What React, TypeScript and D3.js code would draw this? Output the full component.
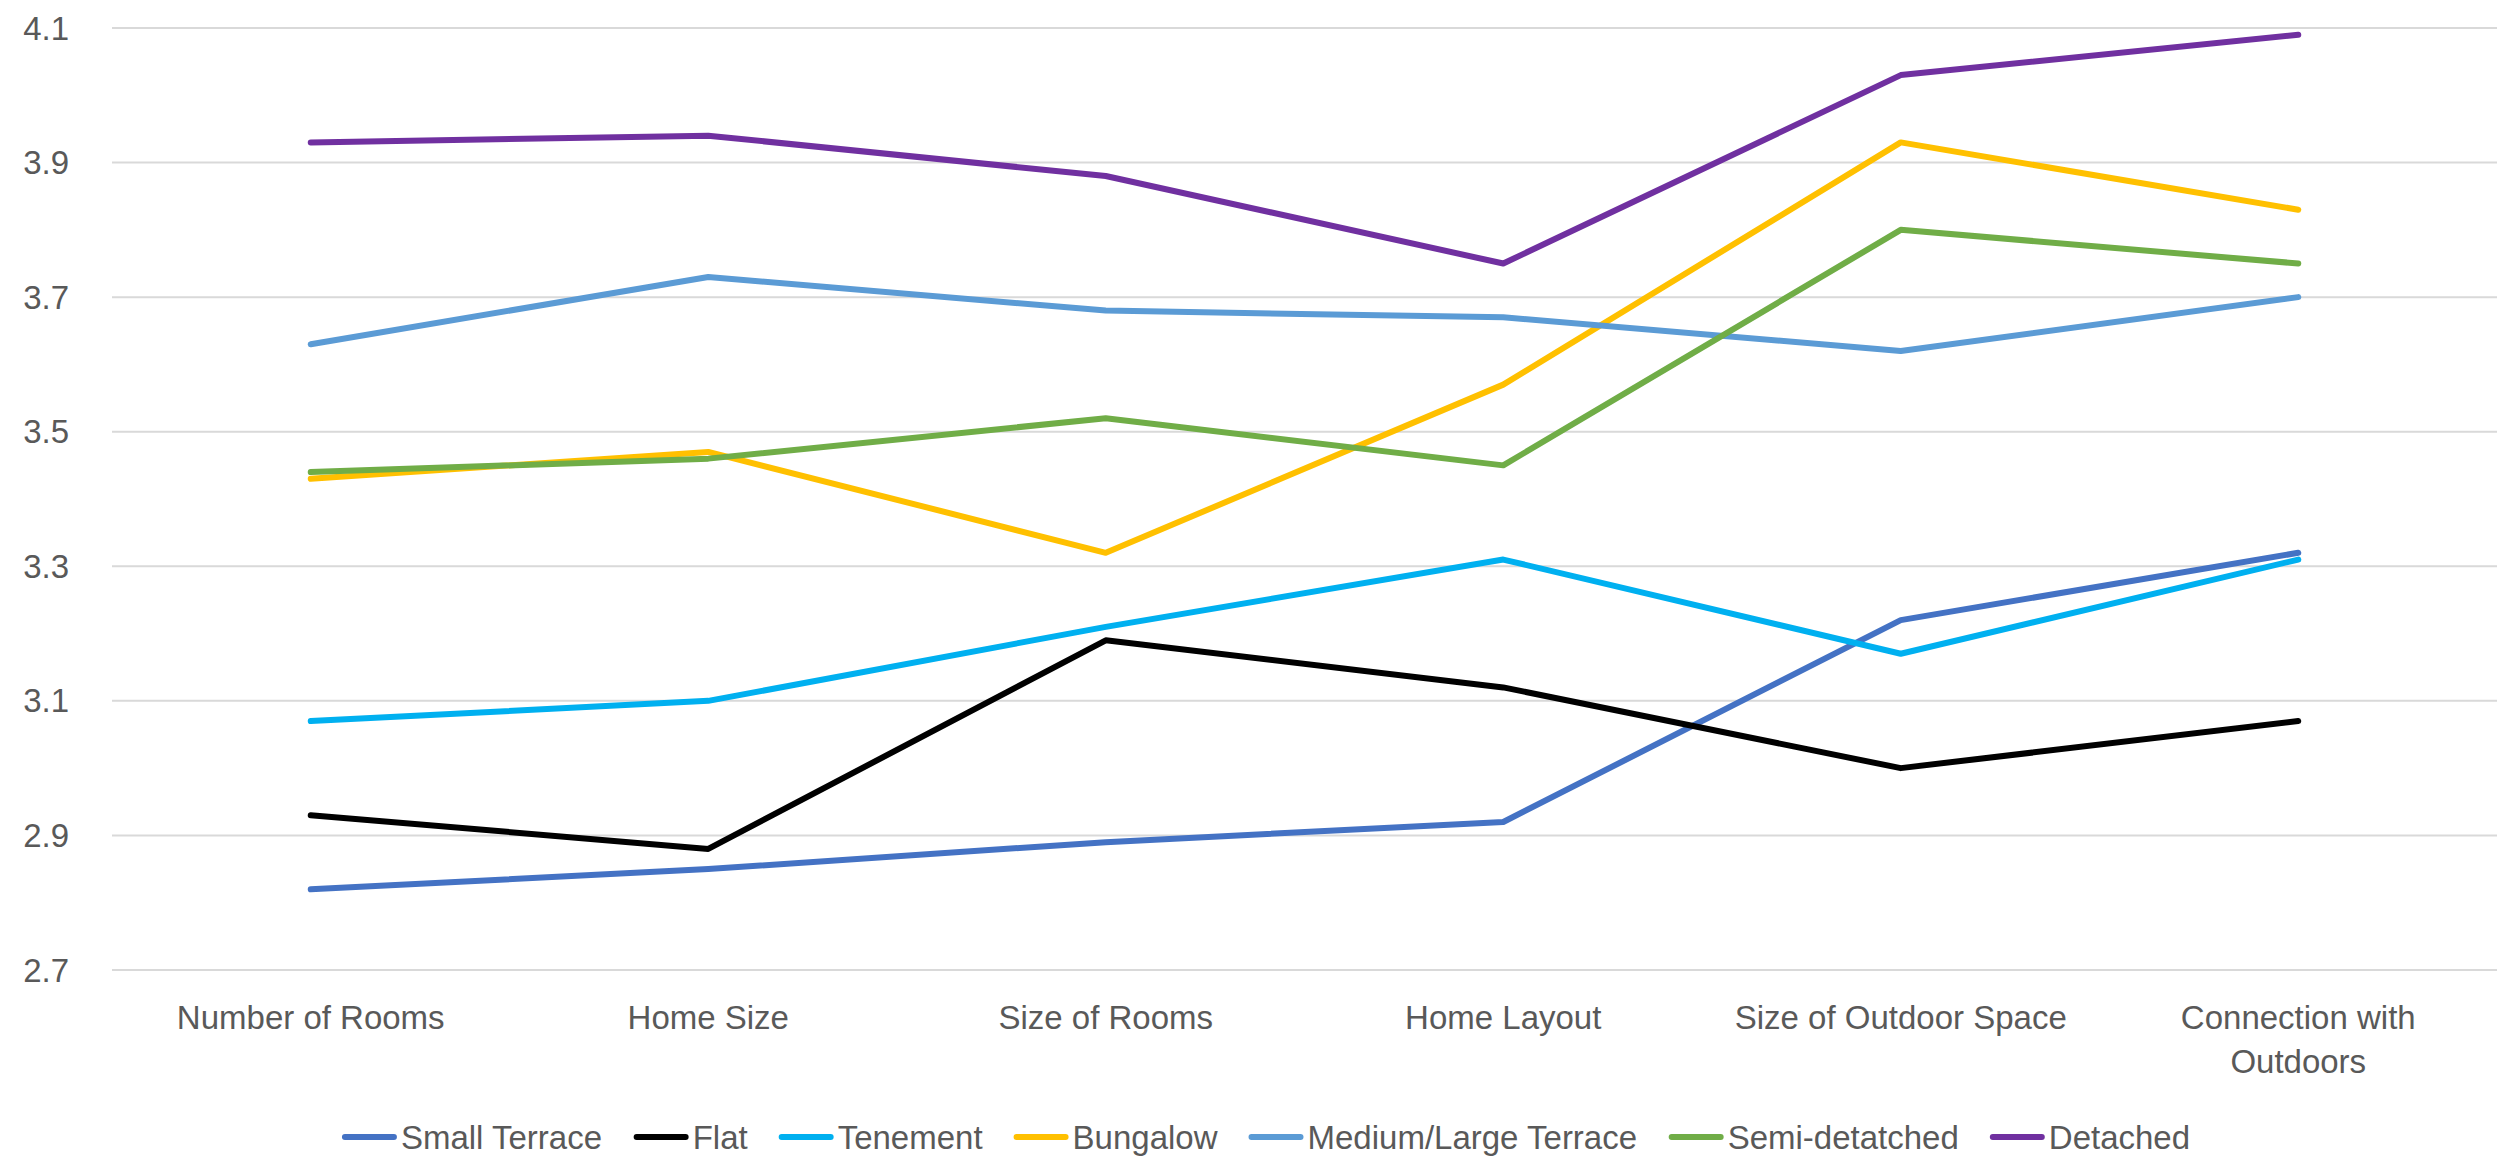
import React from "react";
import * as d3 from "d3";

const categories = [
  "Number of Rooms",
  "Home Size",
  "Size of Rooms",
  "Home Layout",
  "Size of Outdoor Space",
  "Connection with Outdoors",
];
const categoryLines = [
  ["Number of Rooms"],
  ["Home Size"],
  ["Size of Rooms"],
  ["Home Layout"],
  ["Size of Outdoor Space"],
  ["Connection with", "Outdoors"],
];

const seriesNames = [
  "Small Terrace",
  "Flat",
  "Tenement",
  "Bungalow",
  "Medium/Large Terrace",
  "Semi-detatched",
  "Detached",
];
const seriesColors = ["#4472C4", "#000000", "#00B0F0", "#FFC000", "#5B9BD5", "#70AD47", "#7030A0"];

const smallTerrace = [2.82, 2.85, 2.89, 2.92, 3.22, 3.32];
const flat = [2.93, 2.88, 3.19, 3.12, 3.0, 3.07];
const tenement = [3.07, 3.1, 3.21, 3.31, 3.17, 3.31];
const bungalow = [3.43, 3.47, 3.32, 3.57, 3.93, 3.83];
const mediumLargeTerrace = [3.63, 3.73, 3.68, 3.67, 3.62, 3.7];
const semiDetached = [3.44, 3.46, 3.52, 3.45, 3.8, 3.75];
const detached = [3.93, 3.94, 3.88, 3.75, 4.03, 4.09];

const seriesValues = [smallTerrace, flat, tenement, bungalow, mediumLargeTerrace, semiDetached, detached];

const yTicks = [2.7, 2.9, 3.1, 3.3, 3.5, 3.7, 3.9, 4.1];

const W = 2503;
const H = 1159;
const FONT = "'Liberation Sans', Arial, sans-serif";
const FS = 33;
const TEXT_COLOR = "#595959";

function measure(text: string, size: number) {
  if (typeof document === "undefined") return text.length * size * 0.5;
  const c = document.createElement("canvas");
  const ctx = c.getContext("2d")!;
  ctx.font = `${size}px ${FONT}`;
  return ctx.measureText(text).width;
}

export default function App() {
  const left = 112;
  const right = 2497;
  const top = 28;
  const bottom = 970;

  const x = d3.scaleBand<string>().domain(categories).range([left, right]).paddingInner(0).paddingOuter(0);
  const y = d3.scaleLinear().domain([2.7, 4.1]).range([bottom, top]);

  const line = d3
    .line<number>()
    .x((_, i) => (x(categories[i]) as number) + x.bandwidth() / 2)
    .y((d) => y(d));

  // legend layout
  const markerW = 55;
  const markerGap = 4;
  const itemGap = 31;
  const widths = seriesNames.map((n) => measure(n, FS));
  const total =
    widths.reduce((a, b) => a + b, 0) + seriesNames.length * (markerW + markerGap) + (seriesNames.length - 1) * itemGap;
  let cursor = 1266 - total / 2;
  const legendItems = seriesNames.map((n, i) => {
    const item = { name: n, x: cursor, color: seriesColors[i] };
    cursor += markerW + markerGap + widths[i] + itemGap;
    return item;
  });
  const legendY = 1137;

  return (
    <svg
      width={W}
      height={H}
      style={{ position: "absolute", left: 0, top: 0, background: "#fff" }}
      fontFamily={FONT}
    >
      <rect x={0} y={0} width={W} height={H} fill="#fff" />
      {yTicks.map((t) => (
        <g key={t}>
          <line x1={left} x2={right} y1={y(t)} y2={y(t)} stroke="#D9D9D9" strokeWidth={2} />
          <text x={69} y={y(t)} dy="0.35em" textAnchor="end" fontSize={FS} fill={TEXT_COLOR}>
            {t.toFixed(1)}
          </text>
        </g>
      ))}
      {categories.map((c, i) => (
        <text
          key={c}
          x={(x(c) as number) + x.bandwidth() / 2}
          y={1029}
          textAnchor="middle"
          fontSize={FS}
          fill={TEXT_COLOR}
        >
          {categoryLines[i].map((l, j) => (
            <tspan key={j} x={(x(c) as number) + x.bandwidth() / 2} dy={j === 0 ? 0 : 44}>
              {l}
            </tspan>
          ))}
        </text>
      ))}
      {seriesValues.map((vals, i) => (
        <path
          key={seriesNames[i]}
          d={line(vals) || ""}
          fill="none"
          stroke={seriesColors[i]}
          strokeWidth={6}
          strokeLinecap="round"
          strokeLinejoin="round"
        />
      ))}
      {legendItems.map((it) => (
        <g key={it.name}>
          <line
            x1={it.x + 3}
            x2={it.x + markerW - 3}
            y1={legendY}
            y2={legendY}
            stroke={it.color}
            strokeWidth={6}
            strokeLinecap="round"
          />
          <text x={it.x + markerW + markerGap} y={legendY} dy="0.35em" fontSize={FS} fill={TEXT_COLOR}>
            {it.name}
          </text>
        </g>
      ))}
    </svg>
  );
}
